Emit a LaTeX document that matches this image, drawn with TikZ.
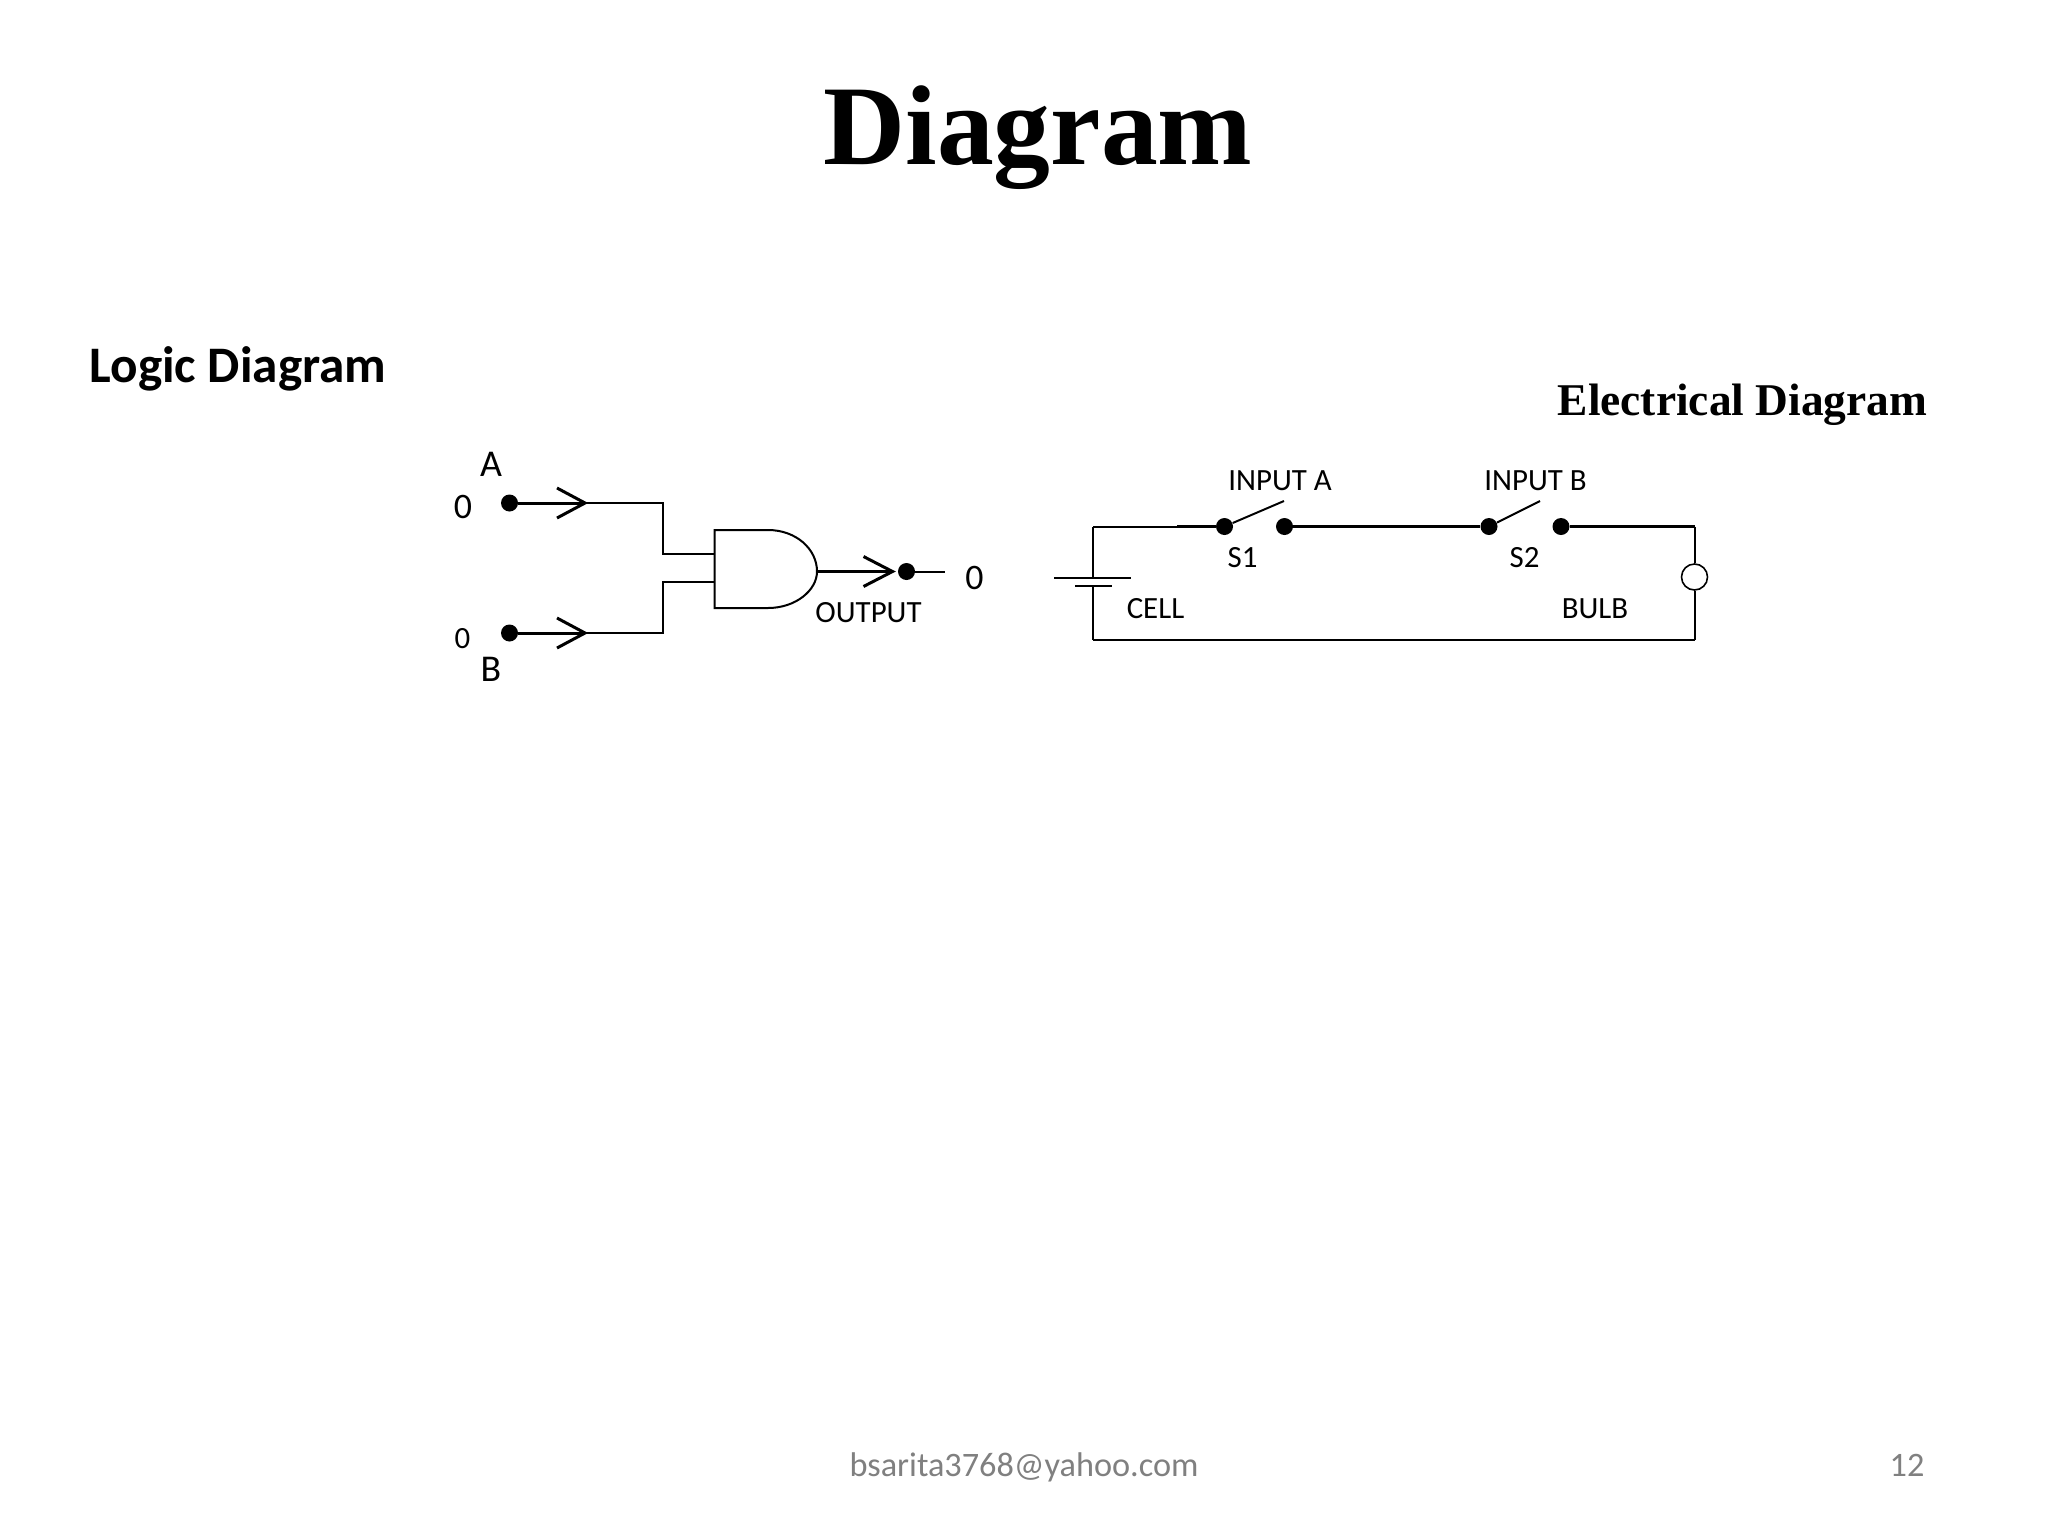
\documentclass[tikz,border=0pt]{standalone}
\usepackage{fontspec}
\setmainfont{Carlito}
\newfontfamily\timesf{Liberation Serif}
\tikzset{
  x=0.5bp,y=-0.5bp,
  thinw/.style={line width=1bp,black},
  thickw/.style={line width=1.5bp,black},
  joint/.style={circle,fill=black,draw=none,inner sep=0pt,minimum size=8.5bp},
  lab/.style={anchor=base,inner sep=0pt,font=\fontsize{15.5}{18}\selectfont},
  biglab/.style={anchor=base,inner sep=0pt,font=\fontsize{19}{22}\selectfont},
  title/.style={anchor=base,inner sep=0pt,font=\timesf\bfseries\fontsize{57}{66}\selectfont},
  foot/.style={anchor=base,inner sep=0pt,text=black!50,font=\fontsize{17.2}{20}\selectfont}
}
\begin{document}
\begin{tikzpicture}
\useasboundingbox (0,0) rectangle (2048,1536);
\fill[white] (0,0) rectangle (2048,1536);
\node[title] (ttl) at (1038,164) {Diagram};
\node[anchor=base,inner sep=0pt,font=\bfseries\fontsize{25.7}{30}\selectfont] (ld) at (238,382) {Logic Diagram};
\node[anchor=base,inner sep=0pt,font=\timesf\bfseries\fontsize{22.8}{27}\selectfont] (ed) at (1742.5,415) {Electrical Diagram};
\node[foot] (mail) at (1024,1476) {bsarita3768@yahoo.com};
\node[foot] (pg) at (1907,1476) {12};
% logic
\node[joint] (da) at (509.5,503) {};
\node[joint] (db) at (509.5,633) {};
\coordinate (ta) at (585,503);
\coordinate (tb) at (585,633);
\coordinate (ca) at (663,503);
\coordinate (cb) at (663,633);
\coordinate (ia) at (714.5,554);
\coordinate (ib) at (714.5,581.5);
\draw[thickw] (da) -- (ta);
\draw[thickw,line join=miter] (557,488) -- (ta) -- (557,518);
\draw[thickw,line join=miter] (557,618) -- (tb) -- (557,648);
\draw[thickw] (db) -- (tb);
\draw[thinw] (ta) -- (ca) |- (ia);
\draw[thinw] (tb) -- (cb) |- (ib);
\coordinate (go) at (817,571.5);
\draw[thinw,fill=white] (714.5,530) -- (768,530) .. controls (796,530) and (817,549) .. (go) .. controls (817,590) and (796,608) .. (768,608) -- (714.5,608) -- cycle;
\node[joint] (dq) at (906.5,571.5) {};
\coordinate (tq) at (892.5,571.5);
\coordinate (qe) at (945,571.5);
\draw[thickw] (go) -- (tq);
\draw[thickw,line join=miter] (863.5,556.5) -- (tq) -- (863.5,586.5);
\draw[thinw] (dq) -- (qe);
\node[biglab] (la) at (491,476.5) {A};
\node[biglab] (lb) at (491,681) {B};
\node[anchor=base,inner sep=0pt,font=\fontsize{18}{22}\selectfont] (z1) at (463,518) {0};
\node[lab] (z2) at (462.5,648) {0};
\node[anchor=base,inner sep=0pt,font=\fontsize{18}{22}\selectfont] (z3) at (974.5,589) {0};
\node[lab] (lo) at (868.5,622) {OUTPUT};
% circuit
\coordinate (tl) at (1093,526.5);
\coordinate (bl) at (1093,639.5);
\coordinate (tr) at (1694.5,526.5);
\coordinate (br) at (1694.5,639.5);
\coordinate (th) at (1177,526.5);
\node[joint] (s1a) at (1224.5,526.5) {};
\node[joint] (s1b) at (1284.5,526.5) {};
\node[joint] (s2a) at (1489,526.5) {};
\node[joint] (s2b) at (1561,526.5) {};
\node[circle,draw=black,line width=0.8bp,fill=white,inner sep=0pt,minimum size=13bp] (bulb) at (1694.5,577) {};
\coordinate (p1) at (1093,578);
\coordinate (p2) at (1093,586);
\coordinate (a1) at (1284,501);
\coordinate (a2) at (1540,501);
\draw[thinw] (tl) -- (th);
\draw[thickw] (th) -- (s1a);
\draw[thickw] (s1b) -- (s2a);
\draw[thickw] (s2b) -- (tr);
\draw[line width=1bp] (s1a) -- (a1);
\draw[line width=1bp] (s2a) -- (a2);
\draw[thinw] (tl) -- (p1);
\draw[thinw] (p2) -- (bl);
\draw[thinw] (1054,578) -- (1130.5,578);
\draw[thinw] (1075,586) -- (1112,586);
\draw[thinw] (bl) -- (br);
\draw[thinw] (tr) -- (bulb);
\draw[thinw] (bulb) -- (br);
\node[lab] (ia1) at (1280,490) {INPUT A};
\node[lab] (ib1) at (1535.5,490) {INPUT B};
\node[lab] (s1) at (1242.5,567) {S1};
\node[lab] (s2) at (1524.5,567) {S2};
\node[lab] (cl) at (1155.5,618) {CELL};
\node[lab] (bb) at (1595,618) {BULB};
\end{tikzpicture}
\end{document}
